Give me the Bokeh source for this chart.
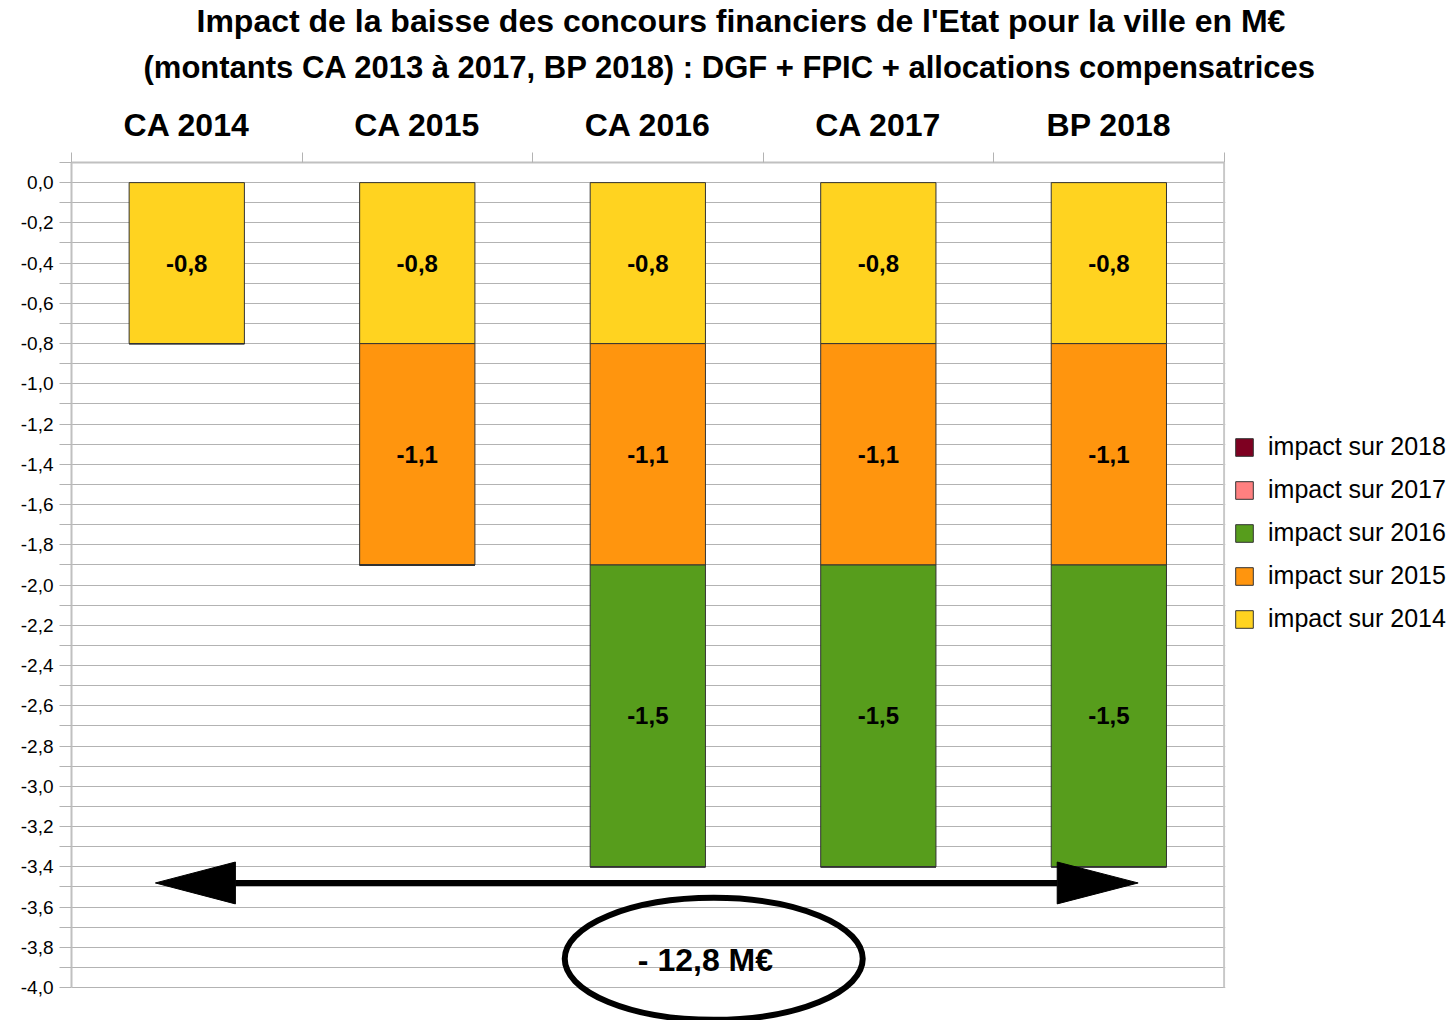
import numpy as np
from bokeh.plotting import figure
from bokeh.models import (Range1d, LinearAxis, FixedTicker, CustomJSTickFormatter,
                          Legend, LegendItem, ColumnDataSource, Grid, Title)
from bokeh.core.properties import value
from bokeh.embed import file_html
from bokeh.resources import INLINE

# ---------------- data ----------------
categories = ["CA 2014", "CA 2015", "CA 2016", "CA 2017", "BP 2018"]
series_names = ["impact sur 2014", "impact sur 2015", "impact sur 2016",
                "impact sur 2017", "impact sur 2018"]
impact_2014 = [-0.8, -0.8, -0.8, -0.8, -0.8]
impact_2015 = [0.0, -1.1, -1.1, -1.1, -1.1]
impact_2016 = [0.0, 0.0, -1.5, -1.5, -1.5]
impact_2017 = [0.0, 0.0, 0.0, 0.0, 0.0]
impact_2018 = [0.0, 0.0, 0.0, 0.0, 0.0]
series_colors = ["#ffd320", "#ff950e", "#579d1c", "#ff8080", "#7e0021"]
y_major_ticks = [-4.0, -3.8, -3.6, -3.4, -3.2, -3.0, -2.8, -2.6, -2.4, -2.2, -2.0,
                 -1.8, -1.6, -1.4, -1.2, -1.0, -0.8, -0.6, -0.4, -0.2, 0.0]
y_minor_ticks = [-3.9, -3.7, -3.5, -3.3, -3.1, -2.9, -2.7, -2.5, -2.3, -2.1, -1.9,
                 -1.7, -1.5, -1.3, -1.1, -0.9, -0.7, -0.5, -0.3, -0.1, 0.1]
title_lines = ["Impact de la baisse des concours financiers de l'Etat pour la ville en M€",
               "(montants CA 2013 à 2017, BP 2018) : DGF + FPIC + allocations compensatrices"]
total_label = "- 12,8 M€"

# annotation placement (data coordinates)
arrow_y = -3.48
arrow_left_tip, arrow_left_base = 0.364, 0.711
arrow_right_base, arrow_right_tip = 4.276, 4.627
arrow_half_h = 0.104
ellipse_x, ellipse_y = 2.786, -3.857
total_x, total_y = 2.75, -3.862

Y_TOP, Y_BOTTOM_AXIS = 0.1, -4.0
Y_START = -4.1634

series = [impact_2014, impact_2015, impact_2016, impact_2017, impact_2018]
n = len(categories)
x_centers = list(np.arange(n) + 0.5)

data = {"x": x_centers}
for name, vals in zip(series_names, series):
    data[name] = vals
src = ColumnDataSource(data)

BASE_FONT = "'Liberation Sans', Arial, sans-serif"

p = figure(frame_width=1154, frame_height=858,
           x_range=Range1d(0, n + 0.006), y_range=Range1d(Y_START, Y_TOP),
           x_axis_location=None, y_axis_location=None,
           toolbar_location=None, output_backend="svg",
           min_border_left=71, min_border_top=162, min_border_bottom=0,
           min_border_right=0)
p.outline_line_color = None
p.background_fill_color = "white"
p.border_fill_color = "white"
for g in p.grid:
    g.visible = False

y_ticker = FixedTicker(ticks=y_major_ticks, minor_ticks=y_minor_ticks)

grid = Grid(dimension=1, ticker=y_ticker, bounds=(Y_BOTTOM_AXIS, Y_TOP),
            grid_line_color="#b3b3b3", grid_line_width=1,
            minor_grid_line_color="#b3b3b3", minor_grid_line_width=1)
p.add_layout(grid)

yaxis = LinearAxis(ticker=y_ticker,
                   formatter=CustomJSTickFormatter(code="return tick.toFixed(1).replace('.', ',');"),
                   bounds=(Y_BOTTOM_AXIS, Y_TOP))
yaxis.axis_line_color = "#c0c0c0"
yaxis.axis_line_width = 2
yaxis.major_tick_line_color = "#b3b3b3"
yaxis.minor_tick_line_color = "#b3b3b3"
yaxis.major_tick_out = 12
yaxis.minor_tick_out = 12
yaxis.major_tick_in = 0
yaxis.minor_tick_in = 0
yaxis.major_label_standoff = 6
yaxis.major_label_text_font = BASE_FONT
yaxis.major_label_text_font_size = "19px"
yaxis.major_label_text_color = "black"
p.add_layout(yaxis, "left")

top_axis = LinearAxis(ticker=FixedTicker(ticks=x_centers, minor_ticks=list(range(n + 1))),
                      major_label_overrides={float(xc): c for xc, c in zip(x_centers, categories)},
                      bounds=(0, n))
top_axis.axis_line_color = "#c0c0c0"
top_axis.axis_line_width = 2
top_axis.major_tick_line_color = None
top_axis.major_tick_out = 0
top_axis.major_tick_in = 0
top_axis.minor_tick_line_color = "#b3b3b3"
top_axis.minor_tick_line_width = 1
top_axis.minor_tick_out = 10
top_axis.minor_tick_in = 0
top_axis.major_label_standoff = 10
top_axis.major_label_text_font = BASE_FONT
top_axis.major_label_text_font_style = "bold"
top_axis.major_label_text_font_size = "32px"
top_axis.major_label_text_color = "black"
p.add_layout(top_axis, "above")

# titles (added after the axis -> stacked above it)
t2 = Title(text=title_lines[1], align="left", offset=72, text_font=BASE_FONT,
           text_font_style="bold", text_font_size="31px", text_color="black", standoff=38)
t1 = Title(text=title_lines[0], align="left", offset=125, text_font=BASE_FONT,
           text_font_style="bold", text_font_size="32px", text_color="black", standoff=-20)
p.add_layout(t2, "above")
p.add_layout(t1, "above")

renderers = p.vbar_stack(series_names, x="x", width=0.5, source=src,
                         fill_color=series_colors, line_color="#333333", line_width=1)

# right border of the plot area
p.segment(x0=[n], y0=[Y_BOTTOM_AXIS], x1=[n], y1=[Y_TOP], line_color="#c8c8c8", line_width=2)

# value labels
lx, ly, lt = [], [], []
cum = np.zeros(n)
for vals in series:
    for i, v in enumerate(vals):
        if v != 0:
            lx.append(x_centers[i])
            ly.append(cum[i] + v / 2.0)
            lt.append(f"{v:.1f}".replace(".", ","))
    cum = cum + np.array(vals)
p.text(x=lx, y=ly, text=lt, text_align="center", text_baseline="middle",
       text_font=value(BASE_FONT), text_font_style="bold", text_font_size="24px",
       text_color="black")

# arrow
p.segment(x0=[arrow_left_base], y0=[arrow_y], x1=[arrow_right_base], y1=[arrow_y],
          line_color="black", line_width=6)
p.patches(xs=[[arrow_left_tip, arrow_left_base, arrow_left_base],
              [arrow_right_tip, arrow_right_base, arrow_right_base]],
          ys=[[arrow_y, arrow_y + arrow_half_h, arrow_y - arrow_half_h],
              [arrow_y, arrow_y + arrow_half_h, arrow_y - arrow_half_h]],
          fill_color="black", line_color="black", line_width=1)

# ellipse with total
p.ellipse(x=[ellipse_x], y=[ellipse_y], width=298, height=122,
          width_units="screen", height_units="screen",
          fill_color=None, line_color="black", line_width=6)
p.text(x=[total_x], y=[total_y], text=[total_label], text_align="center",
       text_baseline="middle", text_font=value(BASE_FONT), text_font_style="bold",
       text_font_size="32px", text_color="black")

items = [LegendItem(label=name, renderers=[r]) for name, r in zip(series_names, renderers)]
legend = Legend(items=items[::-1], location=(8, 387))
legend.border_line_color = None
legend.background_fill_alpha = 0
legend.margin = 0
legend.padding = 10
legend.glyph_width = 22
legend.glyph_height = 22
legend.label_standoff = 13
legend.spacing = 14
legend.label_text_font = BASE_FONT
legend.label_text_font_size = "25px"
legend.label_text_color = "black"
p.add_layout(legend, "right")

open("out.html", "w").write(file_html(p, INLINE))
